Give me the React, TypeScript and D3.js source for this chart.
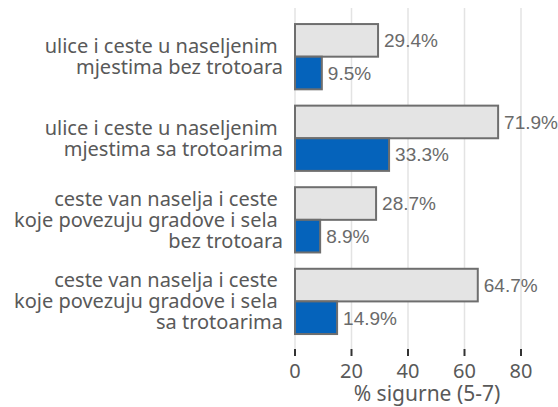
import React from "react";
import * as d3 from "d3";

const categories: string[][] = [
  ["ulice i ceste u naseljenim ", "mjestima bez trotoara"],
  ["ulice i ceste u naseljenim ", "mjestima sa trotoarima"],
  ["ceste van naselja i ceste ", "koje povezuju gradove i sela ", "bez trotoara"],
  ["ceste van naselja i ceste ", "koje povezuju gradove i sela ", "sa trotoarima"],
];
const seriesGray: number[] = [29.4, 71.9, 28.7, 64.7];
const seriesBlue: number[] = [9.5, 33.3, 8.9, 14.9];
const xTicks: number[] = [0, 20, 40, 60, 80];
const axisTitle = "% sigurne (5-7)";

const W = 558;
const H = 407;
const FONT = "'Noto Sans', 'DejaVu Sans', sans-serif";
const TEXT = "#595959";

export default function App() {
  const x = d3.scaleLinear().domain([0, 80]).range([295, 521]);
  const y = d3
    .scaleBand<number>()
    .domain(categories.map((_, i) => i))
    .range([15.9, 342.2])
    .paddingInner(0.2)
    .paddingOuter(0.1);
  const bw = y.bandwidth();
  const half = bw / 2;
  const lh = 21;

  return (
    <svg
      width={W}
      height={H}
      style={{ position: "absolute", left: 0, top: 0, background: "#fff" }}
    >
      {xTicks.map((t) => (
        <g key={t}>
          <line x1={x(t)} x2={x(t)} y1={8} y2={349} stroke="#e3e3e3" strokeWidth={1.5} />
          <line x1={x(t)} x2={x(t)} y1={349} y2={356} stroke="#333" strokeWidth={2} />
          <text
            x={x(t)}
            y={378}
            textAnchor="middle"
            fontFamily={FONT}
            fontSize={20}
            fill={TEXT}
          >
            {t}
          </text>
        </g>
      ))}
      <text
        x={427}
        y={401}
        textAnchor="middle"
        fontFamily={FONT}
        fontSize={21}
        fill={TEXT}
      >
        {axisTitle}
      </text>
      {categories.map((lines, i) => {
        const y0 = y(i)!;
        const cy = y0 + bw / 2;
        return (
          <g key={i}>
            <rect
              x={x(0)}
              y={y0}
              width={x(seriesGray[i]) - x(0)}
              height={half}
              fill="#e4e4e4"
              stroke="#6e6e6e"
              strokeWidth={2}
            />
            <rect
              x={x(0)}
              y={y0 + half}
              width={x(seriesBlue[i]) - x(0)}
              height={half}
              fill="#0563bb"
              stroke="#6e6e6e"
              strokeWidth={2}
            />
            <text
              x={x(seriesGray[i]) + 6}
              y={y0 + half / 2}
              dy="0.36em"
              fontFamily="'Liberation Sans', Arial, sans-serif"
              fontSize={19}
              fill="#6a6a6a"
            >
              {seriesGray[i].toFixed(1)}%
            </text>
            <text
              x={x(seriesBlue[i]) + 6}
              y={y0 + half + half / 2}
              dy="0.36em"
              fontFamily="'Liberation Sans', Arial, sans-serif"
              fontSize={19}
              fill="#6a6a6a"
            >
              {seriesBlue[i].toFixed(1)}%
            </text>
            {lines.map((ln, j) => (
              <text
                key={j}
                x={283}
                y={cy + (j - (lines.length - 1) / 2) * lh}
                dy="0.35em"
                textAnchor="end"
                fontFamily={FONT}
                fontSize={20}
                fill={TEXT}
                style={{ whiteSpace: "pre" }}
              >
                {ln}
              </text>
            ))}
          </g>
        );
      })}
    </svg>
  );
}
